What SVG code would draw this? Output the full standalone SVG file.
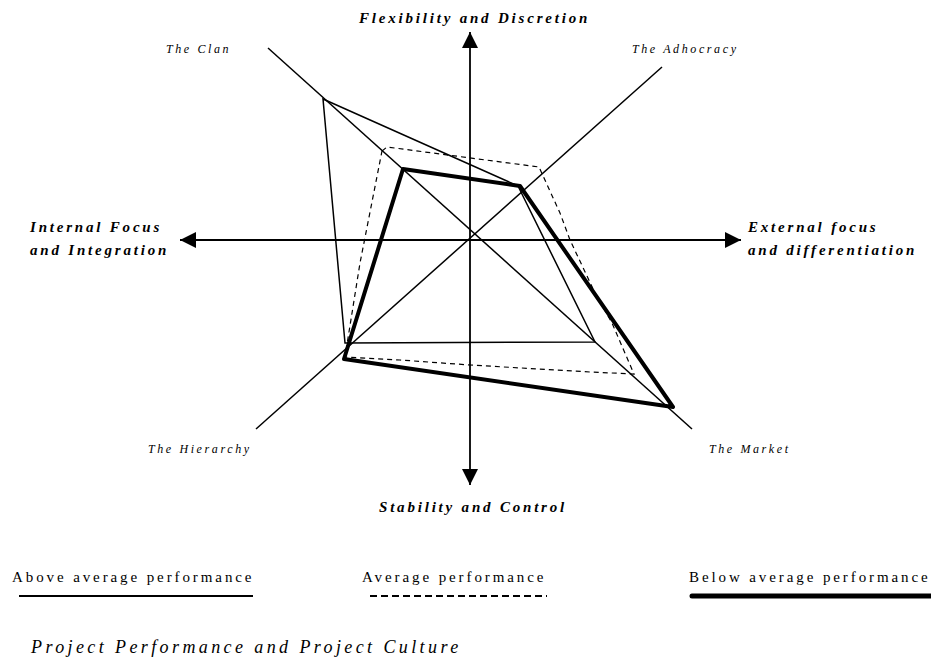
<svg xmlns="http://www.w3.org/2000/svg" width="931" height="662" viewBox="0 0 931 662">
<style>
  .ax{stroke:#000;stroke-width:1.8;fill:none}
  .diag{stroke:#000;stroke-width:1.5;fill:none}
  .above{stroke:#000;stroke-width:1.5;fill:none;stroke-linejoin:miter}
  .avg{stroke:#000;stroke-width:1.2;fill:none;stroke-dasharray:5 4}
  .below{stroke:#000;stroke-width:4;fill:none;stroke-linejoin:round}
  .bi{font-family:"Liberation Serif","Times New Roman",serif;font-weight:bold;font-style:italic;font-size:15px;letter-spacing:2.8px;fill:#000}
  .it{font-family:"Liberation Serif","Times New Roman",serif;font-style:italic;font-size:12px;letter-spacing:2.6px;fill:#000}
  .lg{font-family:"Liberation Serif","Times New Roman",serif;font-size:15px;letter-spacing:2.9px;fill:#000}
  .cap{font-family:"Liberation Serif","Times New Roman",serif;font-style:italic;font-size:18px;letter-spacing:3.4px;fill:#000}
</style>
<defs>
  <marker id="arr" viewBox="0 0 16 16" refX="16" refY="8" markerWidth="16" markerHeight="16" markerUnits="userSpaceOnUse" orient="auto-start-reverse">
    <path d="M0,0 L16,8 L0,16 z" fill="#000"/>
  </marker>
</defs>

<g id="connectors">
  <line id="axis-vertical" class="ax" x1="470" y1="485" x2="470" y2="32" marker-start="url(#arr)" marker-end="url(#arr)"/>
  <line id="axis-horizontal" class="ax" x1="180" y1="240" x2="741" y2="240" marker-start="url(#arr)" marker-end="url(#arr)"/>
  <line id="diag-clan-market" class="diag" x1="268" y1="48" x2="692" y2="429"/>
  <line id="diag-adhocracy-hierarchy" class="diag" x1="662" y1="67" x2="256" y2="429"/>
</g>

<g id="profiles">
  <polygon id="above-average" class="above" points="323,99 518,186 595,342 345,343"/>
  <polygon id="average" class="avg" points="382,151 387,147 539,167 560,213 570,240 595,293 612,323 634,374 590,372 470,365 400,360 345,357 360,263"/>
  <polygon id="below-average" class="below" points="403,169 520,186 673,407 344,359"/>
</g>

<g id="axis-labels">
  <g id="label-top"><text class="bi" x="359" y="23">Flexibility and Discretion</text></g>
  <g id="label-left">
    <text class="bi" x="30" y="232">Internal Focus</text>
    <text class="bi" x="30" y="255">and Integration</text>
  </g>
  <g id="label-right">
    <text class="bi" x="748" y="232">External focus</text>
    <text class="bi" x="748" y="255">and differentiation</text>
  </g>
  <g id="label-bottom"><text class="bi" x="379" y="512">Stability and Control</text></g>
</g>

<g id="quadrant-labels">
  <g id="clan"><text class="it" x="166" y="53">The Clan</text></g>
  <g id="adhocracy"><text class="it" x="632" y="53">The Adhocracy</text></g>
  <g id="hierarchy"><text class="it" x="148" y="453">The Hierarchy</text></g>
  <g id="market"><text class="it" x="709" y="453">The Market</text></g>
</g>

<g id="legend">
  <g id="legend-above">
    <text class="lg" x="12" y="582">Above average performance</text>
    <line x1="19" y1="596" x2="253" y2="596" stroke="#000" stroke-width="2"/>
  </g>
  <g id="legend-average">
    <text class="lg" x="362" y="582">Average performance</text>
    <line x1="370" y1="596" x2="547" y2="596" stroke="#000" stroke-width="2" stroke-dasharray="7 4"/>
  </g>
  <g id="legend-below">
    <text class="lg" x="689" y="582">Below average performance</text>
    <line x1="692" y1="596" x2="935" y2="596" stroke="#000" stroke-width="5" stroke-linecap="round"/>
  </g>
</g>

<g id="caption"><text class="cap" x="31" y="653">Project Performance and Project Culture</text></g>
</svg>
